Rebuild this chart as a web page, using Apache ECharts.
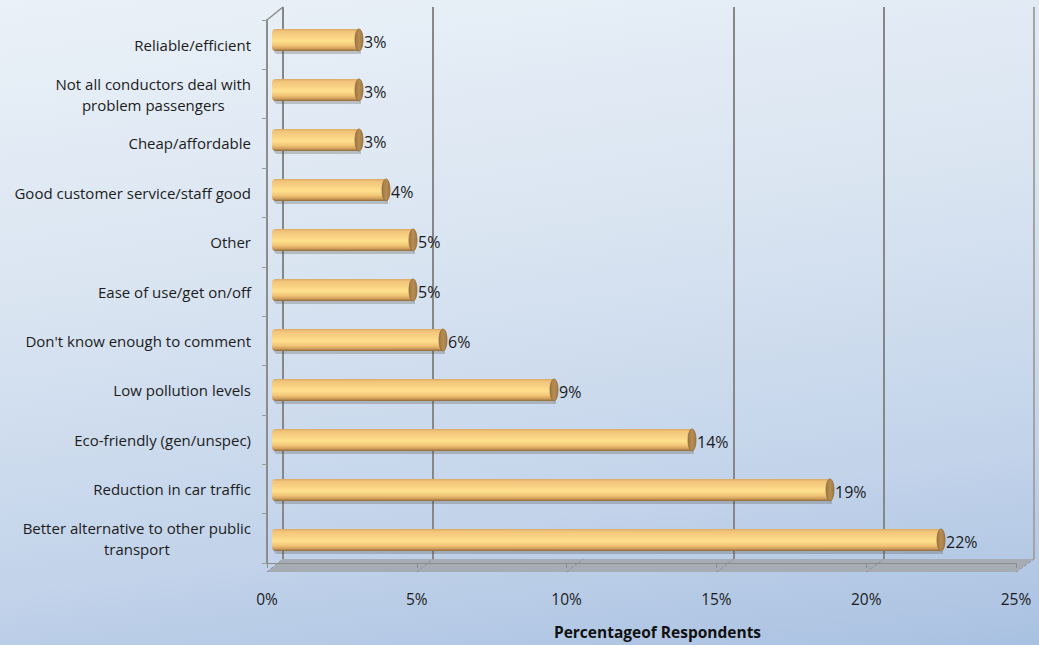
<!DOCTYPE html>
<html>
<head>
<meta charset="utf-8">
<script src="https://cdn.jsdelivr.net/npm/echarts@6/dist/echarts.min.js"></script>
<style>
  html, body { margin: 0; padding: 0; }
  #chart {
    width: 1039px; height: 645px;
    background: linear-gradient(172deg, #eaf1f8 0%, #d9e4f1 40%, #c2d3ea 75%, #a9c1e1 100%);
  }
</style>
</head>
<body>
<div id="chart"></div>
<script>
// Reasons given, listed bottom to top as the category axis draws them
const categories = [
  'Better alternative to other public\ntransport',
  'Reduction in car traffic',
  'Eco-friendly (gen/unspec)',
  'Low pollution levels',
  "Don't know enough to comment",
  'Ease of use/get on/off',
  'Other',
  'Good customer service/staff good',
  'Cheap/affordable',
  'Not all conductors deal with\nproblem passengers',
  'Reliable/efficient'
];
// Share of respondents, %
const values = [22.3, 18.6, 14.0, 9.4, 5.7, 4.7, 4.7, 3.8, 2.9, 2.9, 2.9];
// Percentage axis
const axisMin = 0;
const axisMax = 25;
const axisStep = 5;
const axisTitle = 'Percentageof Respondents';

const FONT = '"Open Sans", Lato, sans-serif';
const W = 1039, H = 645;

// Depth planes of the pseudo-3D box: back wall, front edge, and the bar row in between
const backGrid  = { left: 283, right: 5,  top: 7,  bottom: 86 };
const frontGrid = { left: 267, right: 23, top: 20, bottom: 73 };
const barGrid   = { left: 272, right: 17, top: 15, bottom: 80 };

const chart = echarts.init(document.getElementById('chart'), null, { renderer: 'svg' });

const barFill = new echarts.graphic.LinearGradient(0, 0, 0, 1, [
  { offset: 0.00, color: '#d9aa62' },
  { offset: 0.10, color: '#f1c37a' },
  { offset: 0.35, color: '#f9d384' },
  { offset: 0.55, color: '#ffe08d' },
  { offset: 0.75, color: '#f1c577' },
  { offset: 0.88, color: '#d6a35d' },
  { offset: 1.00, color: '#8d6b3f' }
]);

function renderBar(params, api) {
  const v = api.value(0);
  const idx = api.value(1);
  const start = api.coord([0, idx]);
  const end = api.coord([v, idx]);
  const h = api.size([0, 1])[1] * 0.44;
  const y0 = start[1] - h / 2;
  const rx = 4;
  return {
    type: 'group',
    children: [
      { // soft shadow under the tube
        type: 'rect',
        shape: { x: start[0] + 2, y: y0 + 3, width: end[0] - start[0], height: h, r: [4, 0, 0, 4] },
        style: { fill: 'rgba(80,80,70,0.28)' }
      },
      {
        type: 'rect',
        shape: { x: start[0], y: y0, width: end[0] - start[0], height: h, r: [4, 0, 0, 4] },
        style: { fill: barFill }
      },
      { // end cap
        type: 'ellipse',
        shape: { cx: end[0], cy: start[1], rx: rx, ry: h / 2 },
        style: {
          fill: new echarts.graphic.LinearGradient(0, 0, 1, 0, [
            { offset: 0, color: '#9a7542' },
            { offset: 0.5, color: '#b98d52' },
            { offset: 1, color: '#a27a45' }
          ]),
          stroke: '#8f6c3c', lineWidth: 0.8
        }
      },
      {
        type: 'text',
        style: {
          text: Math.round(v) + '%',
          x: end[0] + rx + 1, y: start[1] + 2,
          verticalAlign: 'middle', align: 'left',
          font: '16px ' + FONT, fill: '#1c1c1c'
        }
      }
    ]
  };
}

const splitColors = ['#878787', '#878787', 'rgba(0,0,0,0)', '#878787', '#878787', '#a4a4a4'];

chart.setOption({
  backgroundColor: 'transparent',
  animation: false,
  grid: [
    Object.assign({}, backGrid),
    Object.assign({}, frontGrid),
    Object.assign({}, barGrid)
  ],
  xAxis: [
    { // back wall gridlines
      type: 'value', gridIndex: 0, min: axisMin, max: axisMax, interval: axisStep,
      axisLine: { show: false }, axisTick: { show: false }, axisLabel: { show: false },
      splitLine: { show: true, lineStyle: { color: splitColors, width: 2 } }
    },
    { // front edge with tick labels
      type: 'value', gridIndex: 1, min: axisMin, max: axisMax, interval: axisStep,
      axisLine: { show: true, lineStyle: { color: '#8c8c8c', width: 1 } },
      axisTick: { show: true, length: 5, lineStyle: { color: '#8c8c8c' } },
      axisLabel: { formatter: '{value}%', fontFamily: FONT, fontSize: 15.5, color: '#1c1c1c', margin: 28 },
      splitLine: { show: false },
      name: axisTitle, nameLocation: 'middle', nameGap: 61,
      nameTextStyle: { fontFamily: FONT, fontSize: 15.5, fontWeight: 'bold', color: '#111', padding: [0, 0, 0, 32] }
    },
    { // scale for the bars
      type: 'value', gridIndex: 2, min: axisMin, max: axisMax, interval: axisStep, show: false
    }
  ],
  yAxis: [
    { type: 'category', gridIndex: 0, data: categories, show: false },
    {
      type: 'category', gridIndex: 1, data: categories,
      axisLine: { show: true, lineStyle: { color: '#8c8c8c', width: 2 } },
      axisTick: { show: true, length: 5, lineStyle: { color: '#9a9a9a' } },
      axisLabel: {
        margin: 16, align: 'right',
        // each line of a wrapped label is centred within its block
        formatter: s => s.split('\n').map(l => '{c|' + l + '}').join('\n'),
        rich: { c: { fontFamily: FONT, fontSize: 15, color: '#1c1c1c', lineHeight: 21, align: 'center' } }
      },
      splitLine: { show: false }
    },
    { type: 'category', gridIndex: 2, data: categories, show: false }
  ],
  series: [{
    type: 'custom',
    xAxisIndex: 2, yAxisIndex: 2,
    renderItem: renderBar,
    encode: { x: 0, y: 1 },
    data: values.map((v, i) => [v, i]),
    z: 5
  }]
});

// Floor and wall edges joining the front and back planes
const fy = H - frontGrid.bottom, by = H - backGrid.bottom;
const fx = v => chart.convertToPixel({ xAxisIndex: 1 }, v);
const bx = v => chart.convertToPixel({ xAxisIndex: 0 }, v);
const frame = [
  {
    type: 'polygon', z: 0,
    shape: { points: [[fx(axisMin), fy], [bx(axisMin), by], [bx(axisMax), by], [fx(axisMax), fy]] },
    style: { fill: '#a6acb3' }
  },
  {
    type: 'line', z: 1,
    shape: { x1: fx(axisMin), y1: frontGrid.top, x2: bx(axisMin), y2: backGrid.top },
    style: { stroke: '#8c8c8c', lineWidth: 1.5 }
  }
];
for (let v = axisMin; v <= axisMax; v += axisStep) {
  frame.push({
    type: 'line', z: 1,
    shape: { x1: fx(v), y1: fy, x2: bx(v), y2: by },
    style: { stroke: '#8e8e8e', lineWidth: 1, lineDash: [3, 2] }
  });
}
chart.setOption({ graphic: frame });
</script>
</body>
</html>
